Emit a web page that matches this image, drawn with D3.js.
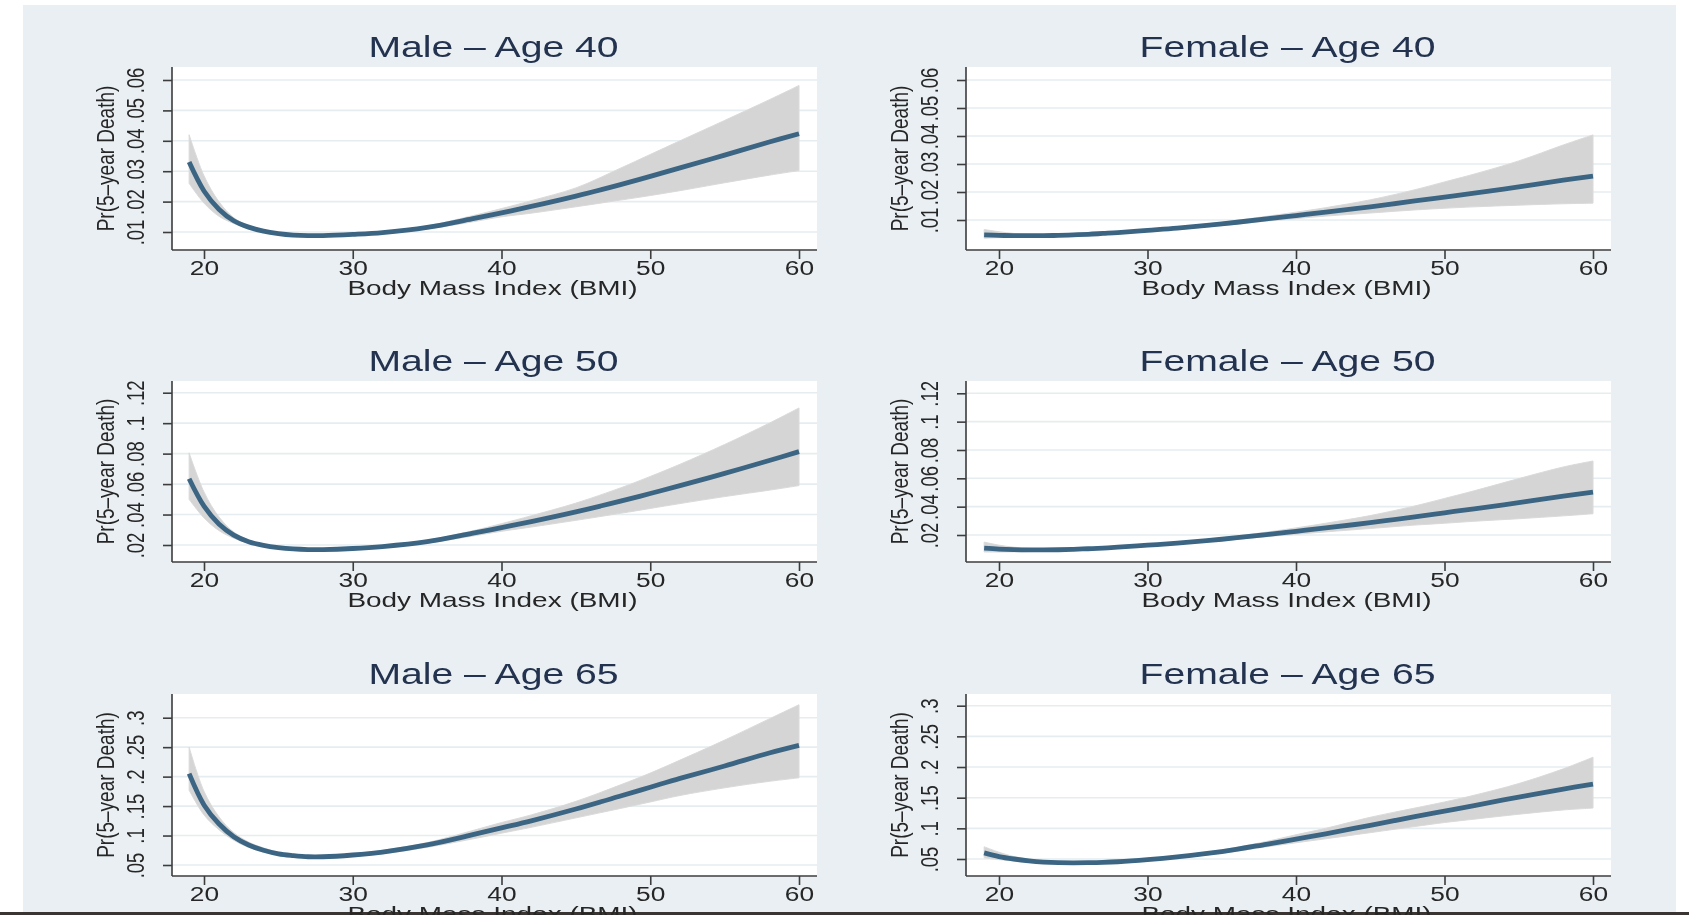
<!DOCTYPE html>
<html>
<head>
<meta charset="utf-8">
<script src="https://cdn.jsdelivr.net/npm/d3@7"></script>
<style>
  html, body { margin: 0; padding: 0; background: #ffffff; }
  svg { display: block; }
  text { font-family: "Liberation Sans", Arial, Helvetica, sans-serif; }
</style>
</head>
<body>
<svg id="chart" width="1689" height="915"></svg>
<script>
// BMI grid at which the predictions are evaluated
const bmi = [19, 20, 21, 22, 23, 24, 25, 26, 27, 28, 30, 32, 35, 38, 40, 42, 45, 48, 50, 52, 55, 58, 60];

// Predicted probability of 5-year death, with lower / upper confidence limits
const male40Fit = [.0330, .0235, .0175, .0137, .0116, .0103, .0095, .0090, .0088, .0088, .0092, .0098, .0115, .0143, .0163, .0184, .0218, .0256, .0283, .0311, .0353, .0396, .0423];
const male40Lo  = [.0260, .0195, .0152, .0128, .0111, .0100, .0093, .0088, .0086, .0086, .0090, .0095, .0110, .0133, .0150, .0162, .0183, .0205, .0220, .0236, .0262, .0287, .0302];
const male40Hi  = [.0420, .0285, .0200, .0147, .0121, .0106, .0097, .0092, .0090, .0090, .0094, .0101, .0120, .0153, .0177, .0203, .0245, .0310, .0355, .0400, .0467, .0535, .0582];

const female40Fit = [.0047, .0045, .0044, .0044, .0044, .0045, .0047, .0049, .0052, .0055, .0063, .0071, .0086, .0104, .0116, .0128, .0147, .0168, .0182, .0196, .0218, .0242, .0257];
const female40Lo  = [.0035, .0037, .0038, .0039, .0040, .0042, .0044, .0047, .0050, .0053, .0060, .0067, .0080, .0096, .0105, .0114, .0125, .0136, .0142, .0147, .0153, .0158, .0160];
const female40Hi  = [.0066, .0058, .0052, .0049, .0048, .0048, .0049, .0051, .0054, .0057, .0066, .0075, .0092, .0113, .0128, .0144, .0172, .0208, .0236, .0264, .0311, .0368, .0404];

const male50Fit = [.0635, .0455, .0338, .0265, .0222, .0198, .0183, .0174, .0170, .0170, .0177, .0190, .0222, .0276, .0314, .0354, .0418, .0488, .0538, .0590, .0670, .0755, .0813];
const male50Lo  = [.0500, .0378, .0295, .0245, .0212, .0192, .0178, .0170, .0166, .0166, .0172, .0183, .0212, .0258, .0290, .0318, .0362, .0408, .0440, .0472, .0518, .0560, .0590];
const male50Hi  = [.0805, .0548, .0385, .0285, .0233, .0205, .0188, .0178, .0174, .0174, .0182, .0197, .0232, .0292, .0340, .0392, .0475, .0575, .0650, .0730, .0860, .1000, .1100];

const female50Fit = [.0108, .0101, .0097, .0095, .0095, .0096, .0099, .0103, .0108, .0114, .0128, .0143, .0170, .0203, .0226, .0250, .0287, .0328, .0357, .0385, .0428, .0475, .0503];
const female50Lo  = [.0080, .0080, .0081, .0083, .0086, .0090, .0094, .0099, .0104, .0110, .0123, .0136, .0160, .0188, .0205, .0222, .0246, .0270, .0283, .0297, .0315, .0335, .0350];
const female50Hi  = [.0150, .0128, .0114, .0106, .0103, .0102, .0104, .0107, .0112, .0118, .0133, .0150, .0180, .0220, .0250, .0283, .0337, .0405, .0458, .0512, .0598, .0680, .0722];

const male65Fit = [.205, .152, .120, .098, .084, .075, .069, .066, .064, .064, .067, .072, .084, .101, .113, .125, .145, .167, .182, .197, .218, .240, .253];
const male65Lo  = [.177, .135, .110, .092, .080, .072, .067, .064, .062, .062, .065, .069, .080, .094, .104, .114, .130, .146, .157, .168, .181, .192, .198];
const male65Hi  = [.250, .175, .132, .105, .089, .079, .072, .068, .066, .066, .069, .075, .088, .108, .122, .135, .158, .186, .206, .228, .262, .298, .322];

const female65Fit = [.0600, .0540, .0500, .0470, .0450, .0440, .0438, .0440, .0445, .0455, .0490, .0535, .0620, .0740, .0825, .0910, .1050, .1190, .1280, .1370, .1510, .1640, .1720];
const female65Lo  = [.0520, .0490, .0470, .0450, .0435, .0425, .0425, .0428, .0433, .0442, .0475, .0518, .0595, .0698, .0765, .0830, .0930, .1030, .1095, .1150, .1230, .1300, .1330];
const female65Hi  = [.0700, .0610, .0540, .0500, .0470, .0455, .0450, .0452, .0458, .0468, .0505, .0553, .0648, .0785, .0895, .1000, .1180, .1330, .1430, .1540, .1730, .1970, .2160];

// Axis ticks
const xTicks = [20, 30, 40, 50, 60];
const yTicksAge40 = [.01, .02, .03, .04, .05, .06];
const yTicksAge50 = [.02, .04, .06, .08, .1, .12];
const yTicksAge65 = [.05, .1, .15, .2, .25, .3];
const yTickLabelsAge40 = [".01", ".02", ".03", ".04", ".05", ".06"];
const yTickLabelsAge50 = [".02", ".04", ".06", ".08", ".1", ".12"];
const yTickLabelsAge65 = [".05", ".1", ".15", ".2", ".25", ".3"];

const titles = ["Male \u2013 Age 40", "Female \u2013 Age 40", "Male \u2013 Age 50", "Female \u2013 Age 50", "Male \u2013 Age 65", "Female \u2013 Age 65"];
const xTitle = "Body Mass Index (BMI)";
const yTitle = "Pr(5\u2013year Death)";

// ---- layout ----
const W = 1689, H = 915;
const WIDE = 1.35;     // horizontal text stretch of the exported graph
const ROT_WIDE = 1.25; // the same stretch as it falls on rotated labels
const cols = [
  { left: 172, right: 817, x0: 204, x1: 799 },
  { left: 966, right: 1611, x0: 999, x1: 1593 }
];
const rows = [
  { top: 67, bottom: 250 },
  { top: 381, bottom: 562 },
  { top: 694, bottom: 876 }
];
// pixel rows of the first and last y tick in each panel
const yPix = [
  [[232, 80], [220, 80]],
  [[545, 392.7], [535, 393.3]],
  [[865, 717.7], [859, 705.7]]
];

const panels = [
  { title: titles[0], fit: male40Fit, lo: male40Lo, hi: male40Hi, ticks: yTicksAge40, labels: yTickLabelsAge40, r: 0, c: 0 },
  { title: titles[1], fit: female40Fit, lo: female40Lo, hi: female40Hi, ticks: yTicksAge40, labels: yTickLabelsAge40, r: 0, c: 1 },
  { title: titles[2], fit: male50Fit, lo: male50Lo, hi: male50Hi, ticks: yTicksAge50, labels: yTickLabelsAge50, r: 1, c: 0 },
  { title: titles[3], fit: female50Fit, lo: female50Lo, hi: female50Hi, ticks: yTicksAge50, labels: yTickLabelsAge50, r: 1, c: 1 },
  { title: titles[4], fit: male65Fit, lo: male65Lo, hi: male65Hi, ticks: yTicksAge65, labels: yTickLabelsAge65, r: 2, c: 0 },
  { title: titles[5], fit: female65Fit, lo: female65Lo, hi: female65Hi, ticks: yTicksAge65, labels: yTickLabelsAge65, r: 2, c: 1 }
];

const svg = d3.select("#chart");

const defs = svg.append("defs");
defs.append("filter").attr("id", "soft")
  .attr("x", "-2%").attr("y", "-2%").attr("width", "104%").attr("height", "104%")
  .append("feGaussianBlur").attr("stdDeviation", 0.55);

// graph region background and frame edges
svg.append("rect").attr("x", 0).attr("y", 0).attr("width", W).attr("height", H).attr("fill", "#ffffff");
svg.append("rect").attr("x", 23).attr("y", 5).attr("width", 1653).attr("height", 908).attr("fill", "#e9eff2");
svg.append("rect").attr("x", 0).attr("y", 912).attr("width", W).attr("height", 3).attr("fill", "#3a3532");

const root = svg.append("g").attr("filter", "url(#soft)");

const curve = d3.curveCatmullRom.alpha(0.5);
const tickFont = '"Liberation Sans", Arial, sans-serif';

panels.forEach(p => {
  const col = cols[p.c], row = rows[p.r];
  const [yA, yB] = yPix[p.r][p.c];
  const x = d3.scaleLinear().domain([xTicks[0], xTicks[xTicks.length - 1]]).range([col.x0, col.x1]);
  const y = d3.scaleLinear().domain([p.ticks[0], p.ticks[p.ticks.length - 1]]).range([yA, yB]);

  const g = root.append("g");

  // plot region
  g.append("rect")
    .attr("x", col.left).attr("y", row.top)
    .attr("width", col.right - col.left).attr("height", row.bottom - row.top)
    .attr("fill", "#ffffff");

  // horizontal grid
  g.selectAll(".grid").data(p.ticks).enter().append("line")
    .attr("x1", col.left).attr("x2", col.right)
    .attr("y1", d => y(d)).attr("y2", d => y(d))
    .attr("stroke", "#e6edf0").attr("stroke-width", 1.6);

  const rowsData = bmi.map((b, i) => ({ b, fit: p.fit[i], lo: p.lo[i], hi: p.hi[i] }));

  // confidence band
  g.append("path").datum(rowsData)
    .attr("d", d3.area().x(d => x(d.b)).y0(d => y(d.lo)).y1(d => y(d.hi)).curve(curve))
    .attr("fill", "#d5d5d5").attr("stroke", "#dadada").attr("stroke-width", 1);

  // predicted curve
  g.append("path").datum(rowsData)
    .attr("d", d3.line().x(d => x(d.b)).y(d => y(d.fit)).curve(curve))
    .attr("fill", "none").attr("stroke", "#3b6583").attr("stroke-width", 4.8)
    .attr("stroke-linecap", "butt").attr("stroke-linejoin", "round");

  // axis lines
  g.append("line").attr("x1", col.left).attr("x2", col.right)
    .attr("y1", row.bottom).attr("y2", row.bottom)
    .attr("stroke", "#3d3d3d").attr("stroke-width", 1.6);
  g.append("line").attr("x1", col.left).attr("x2", col.left)
    .attr("y1", row.top).attr("y2", row.bottom)
    .attr("stroke", "#3d3d3d").attr("stroke-width", 1.6);

  // x axis
  const xa = g.append("g").attr("transform", `translate(0,${row.bottom})`)
    .call(d3.axisBottom(x).tickValues(xTicks).tickFormat(d3.format("d")).tickSize(9).tickSizeOuter(0));
  xa.select(".domain").remove();
  xa.selectAll(".tick line").attr("stroke", "#3d3d3d").attr("stroke-width", 1.6);
  xa.selectAll(".tick text")
    .attr("y", 25).attr("dy", 0)
    .attr("transform", `scale(${WIDE},1)`)
    .attr("font-size", 19.5).attr("fill", "#262626")
    .attr("font-family", tickFont);

  // y axis
  const ya = g.append("g").attr("transform", `translate(${col.left},0)`)
    .call(d3.axisLeft(y).tickValues(p.ticks).tickFormat((d, i) => p.labels[i]).tickSize(9).tickSizeOuter(0));
  ya.select(".domain").remove();
  ya.selectAll(".tick line").attr("stroke", "#3d3d3d").attr("stroke-width", 1.6);
  ya.selectAll(".tick text")
    .attr("x", 0).attr("y", 0).attr("dy", 0)
    .attr("text-anchor", "middle")
    .attr("transform", `translate(-28,0) scale(${ROT_WIDE},1) rotate(-90)`)
    .attr("font-size", 18.5).attr("fill", "#262626")
    .attr("font-family", tickFont);

  // panel title
  g.append("text")
    .attr("transform", `translate(${(col.left + col.right) / 2 - 1},${row.top - 10}) scale(${WIDE},1)`)
    .attr("text-anchor", "middle")
    .attr("font-size", 29).attr("fill", "#24324f")
    .text(p.title);

  // axis titles
  g.append("text")
    .attr("transform", `translate(${(col.left + col.right) / 2 - 2},${row.bottom + 45}) scale(${WIDE},1)`)
    .attr("text-anchor", "middle")
    .attr("font-size", 20.7).attr("fill", "#262626")
    .text(xTitle);

  g.append("text")
    .attr("transform", `translate(${col.left - 58},${(row.top + row.bottom) / 2}) scale(${ROT_WIDE},1) rotate(-90)`)
    .attr("text-anchor", "middle")
    .attr("font-size", 19).attr("fill", "#262626")
    .text(yTitle);
});
</script>
</body>
</html>
